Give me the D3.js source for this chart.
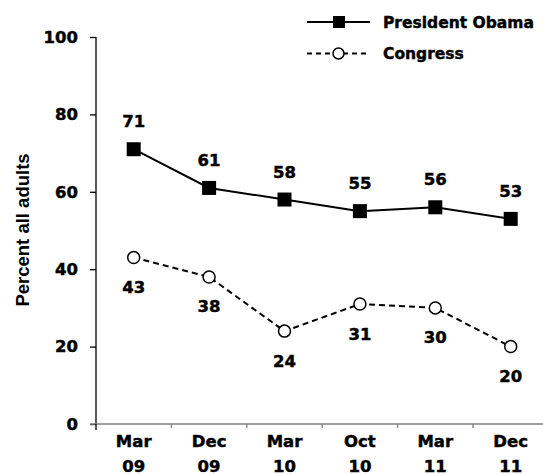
<!DOCTYPE html>
<html><head><meta charset="utf-8">
<script src="https://cdn.jsdelivr.net/npm/d3@7"></script>
<style>body{margin:0;background:#fff}svg{display:block}</style>
</head><body>
<svg id="c" width="543" height="474"></svg>
<script>
const categories = ["Mar 09","Dec 09","Mar 10","Oct 10","Mar 11","Dec 11"];
const obama = [71,61,58,55,56,53];
const congress = [43,38,24,31,30,20];
const yTicks = [0,20,40,60,80,100];
const seriesNames = ["President Obama","Congress"];

const svg = d3.select("#c");
const tickFont = "'DejaVu Sans', sans-serif";
function bold(sel, size){
  return sel.attr("font-family",tickFont).attr("font-weight","bold").attr("font-size",size)
    .attr("fill","#000").attr("stroke","#000").attr("stroke-width",0.45);
}
const x = d3.scaleBand().domain(categories).range([96, 548.4]).paddingInner(0).paddingOuter(0);
const y = d3.scaleLinear().domain([0,100]).range([424, 37]);
const cx = c => x(c) + x.bandwidth()/2;

// y axis
const yAxis = d3.axisLeft(y).tickValues(yTicks).tickSize(6).tickPadding(12);
const gy = svg.append("g").attr("transform","translate(96,0)").call(yAxis);
gy.select(".domain").attr("stroke","#000").attr("stroke-width",1.3).attr("d","M0,37V424");
gy.selectAll(".tick line").attr("stroke","#000").attr("stroke-width",1.3);
bold(gy.selectAll(".tick text"),16.5);

// x axis
svg.append("line").attr("x1",90).attr("x2",543).attr("y1",424).attr("y2",424).attr("stroke","#808080").attr("stroke-width",1.5);
svg.append("g").selectAll("line").data(categories).join("line")
  .attr("x1",d=>x(d)).attr("x2",d=>x(d)).attr("y1",424).attr("y2",(d,i)=>i===0?430:428)
  .attr("stroke",(d,i)=>i===0?"#000":"#808080").attr("stroke-width",1.3);
const xl = bold(svg.append("g").selectAll("text").data(categories).join("text")
  .attr("x",d=>cx(d)).attr("text-anchor","middle"),16.5);
xl.append("tspan").attr("x",d=>cx(d)).attr("y",447).text(d=>d.split(" ")[0]);
xl.append("tspan").attr("x",d=>cx(d)).attr("y",471.5).text(d=>d.split(" ")[1]);

// y label
svg.append("text").attr("transform","translate(29,230) rotate(-90)").attr("text-anchor","middle")
  .attr("font-family","'Liberation Sans', Arial, sans-serif").attr("font-weight","bold").attr("font-size",18.5)
  .text("Percent all adults");

const line = d3.line().x((d,i)=>cx(categories[i])).y(d=>y(d));

// Obama
svg.append("path").datum(obama).attr("d",line).attr("fill","none").attr("stroke","#000").attr("stroke-width",2);
svg.append("g").selectAll("rect").data(obama).join("rect")
  .attr("x",(d,i)=>cx(categories[i])-7).attr("y",d=>y(d)-7).attr("width",14).attr("height",14).attr("fill","#000");
bold(svg.append("g").selectAll("text").data(obama).join("text")
  .attr("x",(d,i)=>cx(categories[i])).attr("y",d=>y(d)-22).attr("text-anchor","middle"),16.5).text(d=>d);

// Congress
svg.append("path").datum(congress).attr("d",line).attr("fill","none").attr("stroke","#000").attr("stroke-width",2).attr("stroke-dasharray","6,4");
svg.append("g").selectAll("circle").data(congress).join("circle")
  .attr("cx",(d,i)=>cx(categories[i])).attr("cy",d=>y(d)).attr("r",6).attr("fill","#fff").attr("stroke","#000").attr("stroke-width",1.5);
bold(svg.append("g").selectAll("text").data(congress).join("text")
  .attr("x",(d,i)=>cx(categories[i])).attr("y",d=>y(d)+35.5).attr("text-anchor","middle"),16.5).text(d=>d);

// legend
const lg = svg.append("g");
lg.append("line").attr("x1",307).attr("x2",370).attr("y1",22).attr("y2",22).attr("stroke","#000").attr("stroke-width",2);
lg.append("rect").attr("x",333).attr("y",16).attr("width",12).attr("height",12).attr("fill","#000");
bold(lg.append("text").attr("x",383).attr("y",27.5),15.5).text(seriesNames[0]);
lg.append("line").attr("x1",307).attr("x2",370).attr("y1",53.5).attr("y2",53.5).attr("stroke","#000").attr("stroke-width",2).attr("stroke-dasharray","5,4");
lg.append("circle").attr("cx",338.5).attr("cy",53.5).attr("r",5.5).attr("fill","#fff").attr("stroke","#000").attr("stroke-width",1.5);
bold(lg.append("text").attr("x",383).attr("y",58.5),15.5).text(seriesNames[1]);
</script>
</body></html>
